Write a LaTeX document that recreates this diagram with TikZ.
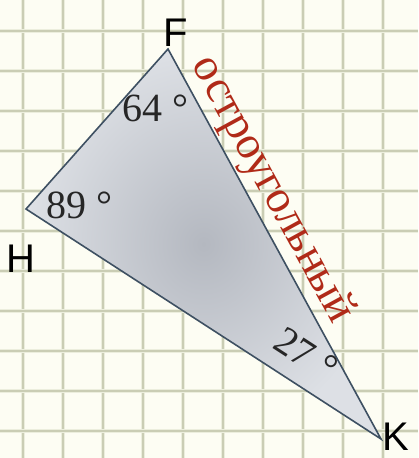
\documentclass[tikz,border=0pt]{standalone}
\usepackage{fontspec}
\setmainfont{Liberation Serif}
\newfontfamily\labelfont{Liberation Sans}
\definecolor{paper}{HTML}{FDFDF3}
\definecolor{gridline}{HTML}{CACDB4}
\definecolor{gridglow}{HTML}{ECEEDD}
\definecolor{edge}{HTML}{3E5062}
\definecolor{trilight}{HTML}{DDE0E5}
\definecolor{tridark}{HTML}{B4B8C0}
\definecolor{wordred}{HTML}{B02A18}
\tikzset{
  vertex/.style={font=\labelfont\fontsize{40}{40}\selectfont, text=black, inner sep=0pt},
  angle/.style={font=\fontsize{40}{40}\selectfont, text=black!85, inner sep=0pt},
}
\begin{document}
\begin{tikzpicture}[x=1pt,y=-1pt]
            \useasboundingbox (0,0) rectangle (418,458);
            \fill[paper] (0,0) rectangle (418,458);

            % grid
            \foreach \i in {0,...,9} {
                \draw[gridglow, line width=4.5pt] (23+40*\i,0) -- (23+40*\i,458);
                \draw[gridline, line width=1.5pt] (23+40*\i,0) -- (23+40*\i,458);
            }
            \foreach \j in {0,...,10} {
                \draw[gridglow, line width=4.5pt] (0,31+40*\j) -- (418,31+40*\j);
                \draw[gridline, line width=1.5pt] (0,31+40*\j) -- (418,31+40*\j);
            }

            \coordinate (F) at (168, 49);
            \coordinate (H) at (26, 209);
            \coordinate (K) at (381, 439);

            \shade[inner color=tridark, outer color=trilight] (F) -- (K) -- (H) -- cycle;
            \draw[edge, line width=1.6pt, line join=miter] (F) -- (K) -- (H) -- cycle;

            \node[vertex] (lF) at (176, 33) {F};
            \node[vertex] (lH) at (21, 259) {H};
            \node[vertex] (lK) at (396, 437) {K};

            \node[angle] (a64) at (155, 108) {64 °};
            \node[angle] (a89) at (79, 205) {89 °};
            \node[angle, rotate=-33] (a27) at (306, 354) {27 °};

            \node[font=\fontsize{46}{46}\selectfont, text=wordred, rotate=-61.4, inner sep=0pt]
                (kind) at (272, 190) {остроугольный};
        \end{tikzpicture}
\end{document}
